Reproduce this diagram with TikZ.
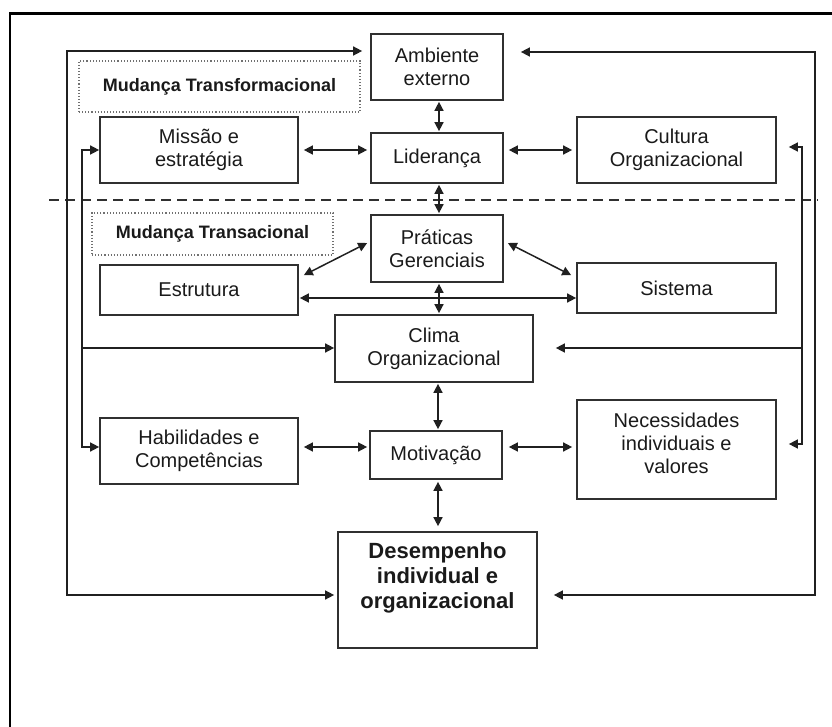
\documentclass[tikz,border=0pt]{standalone}
\usepackage{fontspec}
\setmainfont{Liberation Sans}
\usetikzlibrary{arrows.meta}
\definecolor{boxc}{HTML}{303030}
\definecolor{linec}{HTML}{202020}
\definecolor{txtc}{HTML}{1A1A1A}
\definecolor{dotc}{HTML}{707070}
\begin{document}
\begin{tikzpicture}[x=1pt,y=-1pt,
  box/.style={draw=boxc,line width=1.7pt,inner sep=0pt,align=center,text=txtc,
    font=\fontsize{20}{23}\selectfont},
  plain/.style={inner sep=0pt,align=center,text=txtc,font=\fontsize{20}{23}\selectfont},
  dotbox/.style={draw=dotc,dotted,line width=1.1pt,inner sep=0pt,align=center,text=txtc,
    font=\bfseries\fontsize{18}{21}\selectfont},
  arr/.style={draw=linec,line width=1.5pt,arrows={-Triangle[length=9pt,width=9pt]}},
  darr/.style={draw=linec,line width=1.5pt,arrows={Triangle[length=9pt,width=9pt]-Triangle[length=9pt,width=9pt]}}]
\useasboundingbox (0,0) rectangle (832,727);
% outer frame
\draw[line width=2.5pt,black] (10,727) -- (10,13.5) -- (832,13.5);
% dashed separator
\draw[draw=boxc,line width=1.8pt,dash pattern=on 10pt off 6pt] (49,200) -- (818,200);
% dotted labels
\node[dotbox,minimum width=281pt,minimum height=51pt] (tf) at (219.5,86.5) {Mudança Transformacional};
\node[dotbox,minimum width=241pt,minimum height=42pt] (tr) at (212.5,234) {Mudança Transacional};
% boxes
\node[box,minimum width=132pt,minimum height=66pt] (amb) at (437,67) {Ambiente\\externo};
\node[box,minimum width=132pt,minimum height=50pt] (lid) at (437,158) {Liderança};
\node[box,minimum width=198pt,minimum height=66pt] (mis) at (199,150) {Missão e\\estratégia};
\node[box,minimum width=199pt,minimum height=66pt] (cul) at (676.5,150) {Cultura\\Organizacional};
\node[box,minimum width=132pt,minimum height=67pt] (pra) at (437,248.5) {Práticas\\Gerenciais};
\node[box,minimum width=198pt,minimum height=50pt] (est) at (199,290) {Estrutura};
\node[box,minimum width=199pt,minimum height=50pt] (sis) at (676.5,288) {Sistema};
\node[box,minimum width=198pt,minimum height=67pt] (cli) at (434,348.5) {Clima\\Organizacional};
\node[box,minimum width=198pt,minimum height=66pt] (hab) at (199,451) {Habilidades e\\Competências};
\node[box,minimum width=132pt,minimum height=48pt] (mot) at (436,455) {Motivação};
\node[box,minimum width=199pt,minimum height=99pt] (nec) at (676.5,449.5) {};
\node[plain] (nect) at (676.5,443) {Necessidades\\individuais e\\valores};
\node[box,minimum width=199pt,minimum height=116pt] (des) at (437.5,590) {};
\node[plain,font=\bfseries\fontsize{22}{25}\selectfont] (dest) at (437.5,578) {Desempenho\\individual e\\organizacional};
% vertical connectors
\draw[darr,shorten <=1pt,shorten >=1pt] ([xshift=2pt]amb.south) -- ([xshift=2pt]lid.north);
\draw[darr,shorten <=1pt,shorten >=1pt] ([xshift=2pt]lid.south) -- ([xshift=2pt]pra.north);
\draw[darr,shorten <=1pt,shorten >=1pt] ([xshift=2pt]pra.south) -- ([xshift=2pt]pra.south |- cli.north);
\draw[darr,shorten <=1pt,shorten >=1pt] ([xshift=2pt]mot.north |- cli.south) -- ([xshift=2pt]mot.north);
\draw[darr,shorten <=2pt,shorten >=5pt] ([xshift=2pt]mot.south) -- ([xshift=2pt]mot.south |- des.north);
% horizontal connectors
\draw[darr] ([xshift=5pt]mis.east) -- ([xshift=-3pt]lid.west |- mis.east);
\draw[darr] ([xshift=5pt]lid.east |- cul.west) -- ([xshift=-4pt]cul.west);
\draw[darr] ([xshift=5pt]hab.east |- 0,447) -- ([xshift=-2pt]mot.west |- 0,447);
\draw[darr] ([xshift=6pt]mot.east |- 0,447) -- ([xshift=-4pt]nec.west |- 0,447);
\draw[darr] ([xshift=1pt]est.east |- 0,298) -- (sis.west |- 0,298);
% diagonal connectors
\draw[darr] ([xshift=-3pt]pra.west |- 0,243) -- ([xshift=5pt,yshift=-11pt]est.north east);
\draw[darr] ([xshift=4pt]pra.east |- 0,243) -- ([xshift=-5pt,yshift=-13pt]sis.north west);
% outer left loop
\draw[darr] ([xshift=-8pt]amb.west |- 0,51) -| (67,595) -- ([xshift=-3pt]des.west |- 0,595);
% outer right loop
\draw[darr] ([xshift=17pt]amb.east |- 0,52) -| (815,595) -- ([xshift=16pt]des.east |- 0,595);
% inner left loop
\draw[darr] (mis.west |- 0,150) -| (82,447) -- (hab.west |- 0,447);
\draw[arr] (82,348) -- (cli.west |- 0,348);
% inner right loop
\draw[darr] ([xshift=12pt]cul.east |- 0,147) -| (802,444) -- ([xshift=12pt]nec.east |- 0,444);
\draw[arr] (802,348) -- ([xshift=22pt]cli.east |- 0,348);
\end{tikzpicture}
\end{document}
